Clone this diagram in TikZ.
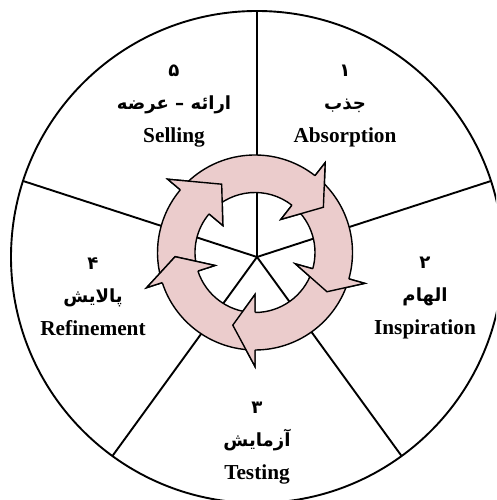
\documentclass[tikz,border=0pt]{standalone}
\usepackage{fontspec}
\setmainfont{Liberation Serif}
\newfontfamily\fa[Script=Arabic,Scale=0.85]{DejaVu Sans}
\TeXXeTstate=1
\definecolor{ringpink}{RGB}{235,204,204}

\begin{document}
\begin{tikzpicture}[x=1pt,y=1pt,
  spoke/.style={line width=1.9pt},
  ringarrow/.style={fill=ringpink,draw=black,line width=1.4pt,line join=miter},
  stage/.style={align=center,font=\bfseries\fontsize{21.3}{33}\selectfont}]
  \useasboundingbox (0,0) rectangle (496,500);
  \clip (0,0) rectangle (496,500);
  \coordinate (hub) at (257,243);
  \coordinate (ring) at (255,247.5);
  % wheel and spokes
  \draw[spoke] (hub) circle[radius=246];
  \foreach \a in {90,18,-54,-126,162}
    \draw[spoke] (hub) -- ++(\a:246);
  % ring of arrows: bodies first
  \begin{scope}[shift={(ring)}]
    \foreach \ta/\ba/\pa/\pr in {195/140/116/76, 137/52/33.5/82, 49/-15.7/-28.6/82, -18.7/-90/-107/76, 267/198/183/80}{
      \filldraw[ringarrow] (\ta:97.5) arc[start angle=\ta,end angle=\ba,radius=97.5]
        -- (\ba:114) -- (\pa:\pr) -- (\ba:42) -- (\ba:60)
        arc[start angle=\ba,end angle=\ta,radius=60] -- cycle;
    }
    % heads again, over the next tail
    \foreach \ba/\pa/\pr in {140/116/76, 52/33.5/82, -15.7/-28.6/82, -90/-107/76, 198/183/80}{
      \fill[ringpink] (\ba:114) -- (\pa:\pr) -- (\ba:42) -- cycle;
      \draw[ringarrow,fill=none] (\ba:97.5) -- (\ba:114) -- (\pa:\pr) -- (\ba:42) -- (\ba:60);
    }
  \end{scope}
  % stage labels
  \node[stage] (absorb) at (345,393.5) {{\fa ۱}\\{\fa\beginR جذب\endR}\\Absorption};
  \node[stage] (inspire) at (425,202) {{\fa ۲}\\{\fa\beginR الهام\endR}\\Inspiration};
  \node[stage] (test) at (257,57) {{\fa ۳}\\{\fa\beginR آزمایش\endR}\\Testing};
  \node[stage] (refine) at (93,203) {{\fa ۴}\\{\fa\beginR پالایش\endR}\\Refinement};
  \node[stage] (sell) at (174,393.5) {{\fa ۵}\\{\fa\beginR ارائه – عرضه\endR}\\Selling};
\end{tikzpicture}
\end{document}
